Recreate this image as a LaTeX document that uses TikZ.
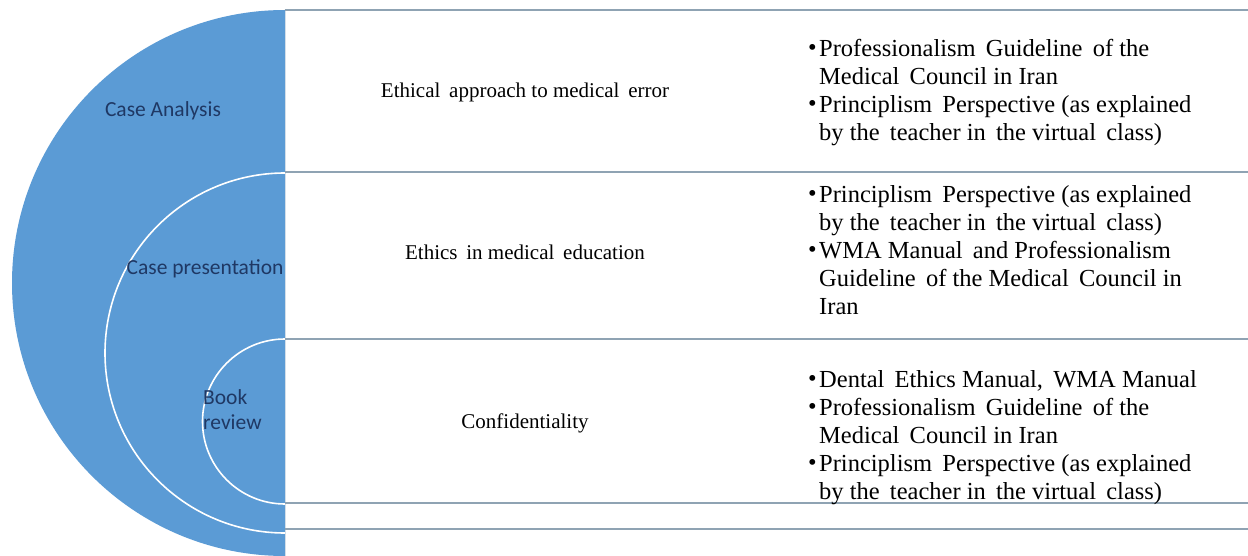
\documentclass[tikz,border=0pt]{standalone}
\usepackage{fontspec}
\setmainfont{Liberation Serif}
\newfontfamily\tnr{Liberation Serif}
\newfontfamily\calib{Carlito}
\definecolor{accblue}{HTML}{5B9BD5}
\definecolor{navy}{HTML}{1F3864}
\definecolor{rule}{HTML}{8FA3B3}
\definecolor{edge}{HTML}{D3DEE8}
\tikzset{
  lbl/.style={inner sep=0pt, font=\calib\fontsize{21.5}{25}\selectfont, text=navy},
  mid/.style={inner sep=0pt, anchor=base, font=\tnr\fontsize{21}{25}\selectfont},
  refs/.style={inner sep=0pt, anchor=base west},
  rowline/.style={draw=rule, line width=1.3pt},
  ring/.style={draw=white, line width=1.6pt}
}
\newcommand{\bul}{\makebox[11pt][l]{\raisebox{1pt}{\textbullet}}}
\newcommand{\cont}{\hspace*{11pt}}
\newcommand{\reflist}[1]{\parbox[t]{460pt}{\tnr\fontsize{24.5}{28}\selectfont #1}}
\begin{document}
\begin{tikzpicture}[x=1pt,y=-1pt]
\useasboundingbox (0,0) rectangle (1248,556);
\fill[white] (0,0) rectangle (1248,556);
% blue half disc with rings
\begin{scope}
  \clip (0,0) rectangle (285,556);
  \fill[accblue] (285,283) circle[radius=273];
  \draw[ring] (285,353) circle[radius=180];
  \draw[ring] (285,421.5) circle[radius=82.5];
\end{scope}
\draw[edge, line width=1pt] (285,10) -- (285,556);
% row rules
\coordinate (r0l) at (285,10);   \coordinate (r0r) at (1248,10);
\coordinate (r1l) at (285,172);  \coordinate (r1r) at (1248,172);
\coordinate (r2l) at (285,339);  \coordinate (r2r) at (1248,339);
\coordinate (r3l) at (285,503);  \coordinate (r3r) at (1248,503);
\coordinate (r4l) at (285,529);  \coordinate (r4r) at (1248,529);
\draw[rowline] (r0l) -- (r0r);
\draw[rowline] (r1l) -- (r1r);
\draw[rowline] (r2l) -- (r2r);
\draw[rowline] (r3l) -- (r3r);
\draw[rowline] (r4l) -- (r4r);
% left labels
\node[lbl, anchor=base] (ca) at (163,117) {Case Analysis};
\node[lbl, anchor=base] (cp) at (205,275) {Case presentation};
\node[lbl, anchor=base west] (br) at (203,404) {\parbox[t]{70pt}{\calib\fontsize{21.5}{25}\selectfont Book\\review}};
% middle column
\node[mid] (t1) at (525,98) {Ethical\, approach to medical\, error};
\node[mid] (t2) at (525,259) {Ethics\, in medical\, education};
\node[mid] (t3) at (525,428) {Confidentiality};
% right column
\node[refs] (l1) at (808,57) {\reflist{%
\bul Professionalism\, Guideline\, of the\\
\cont Medical\, Council in Iran\\
\bul Principlism\, Perspective (as explained\\
\cont by the\, teacher in\, the virtual\, class)}};
\node[refs] (l2) at (808,203) {\reflist{%
\bul Principlism\, Perspective (as explained\\
\cont by the\, teacher in\, the virtual\, class)\\
\bul WMA Manual\, and Professionalism\\
\cont Guideline\, of the Medical\, Council in\\
\cont Iran}};
\node[refs] (l3) at (808,387) {\reflist{%
\bul Dental\, Ethics Manual,\, WMA Manual\\
\bul Professionalism\, Guideline\, of the\\
\cont Medical\, Council in Iran\\
\bul Principlism\, Perspective (as explained\\
\cont by the\, teacher in\, the virtual\, class)}};
\end{tikzpicture}
\end{document}
